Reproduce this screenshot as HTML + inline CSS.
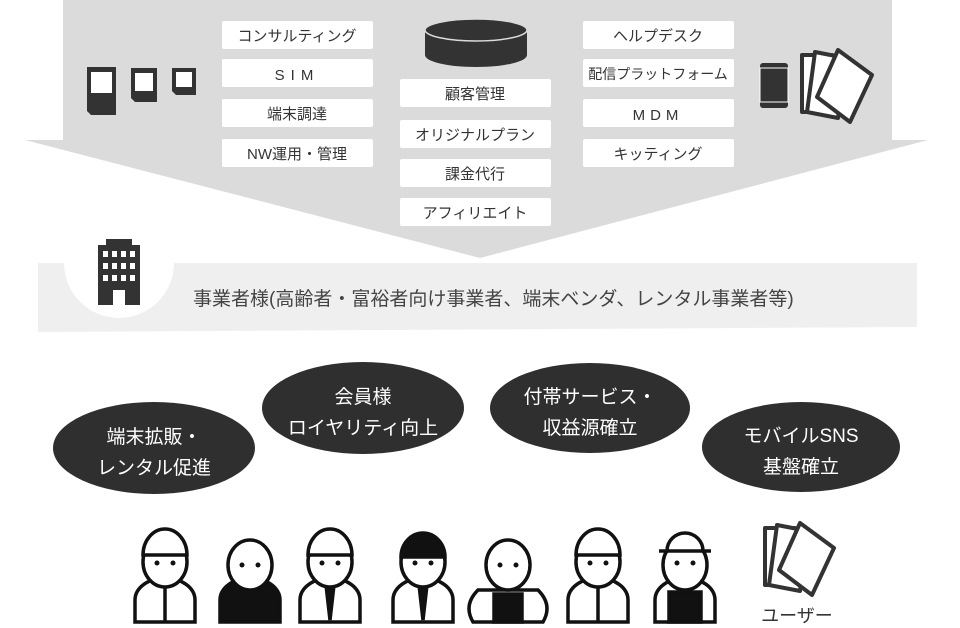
<!DOCTYPE html>
<html><head><meta charset="utf-8"><style>
html,body{margin:0;padding:0;background:#fff;}
svg{display:block;}
text{font-family:"Liberation Sans","Noto Sans CJK JP",sans-serif;}
</style></head><body>
<svg width="960" height="628" viewBox="0 0 960 628" xmlns="http://www.w3.org/2000/svg">
<!-- big gray arrow -->
<polygon points="63,0 892,0 892,140 928,140 480,258 25,140 63,140" fill="#dcdbdb"/>
<!-- light band -->
<path d="M38,263 L917,263 L917,327 L38,332 Z" fill="#efefef"/>
<path d="M64,263 A55,55 0 0 0 174,263 Z" fill="#fff"/>
<!-- building -->
<g fill="#333">
<rect x="98" y="245" width="42" height="60"/>
<rect x="106" y="239" width="26" height="8"/>
</g>
<g fill="#fff">
<rect x="103" y="251" width="5" height="6"/><rect x="112" y="251" width="5" height="6"/><rect x="121" y="251" width="5" height="6"/><rect x="130" y="251" width="5" height="6"/>
<rect x="103" y="263" width="5" height="6"/><rect x="112" y="263" width="5" height="6"/><rect x="121" y="263" width="5" height="6"/><rect x="130" y="263" width="5" height="6"/>
<rect x="103" y="275" width="5" height="6"/><rect x="112" y="275" width="5" height="6"/><rect x="121" y="275" width="5" height="6"/><rect x="130" y="275" width="5" height="6"/>
<rect x="113" y="290" width="12" height="15"/>
</g>
<text x="193" y="305" font-size="19" fill="#444">事業者様(高齢者・富裕者向け事業者、端末ベンダ、レンタル事業者等)</text>

<!-- SIM cards -->
<g fill="#333">
<path d="M87,67 h29 v48 h-25 l-4,-4 z"/>
<path d="M131,68 h26 v34 h-22 l-4,-4 z"/>
<path d="M172,68 h24 v27 h-20 l-4,-4 z"/>
</g>
<g fill="#fff">
<rect x="91" y="72" width="21" height="21"/>
<rect x="135" y="73" width="18" height="18"/>
<rect x="176" y="72" width="16" height="15"/>
</g>

<!-- boxes -->
<g fill="#fff">
<rect x="222" y="21" width="151" height="28" rx="2"/>
<rect x="222" y="59" width="151" height="28" rx="2"/>
<rect x="222" y="99" width="151" height="28" rx="2"/>
<rect x="222" y="139" width="151" height="28" rx="2"/>
<rect x="400" y="79" width="151" height="28" rx="2"/>
<rect x="400" y="120" width="151" height="28" rx="2"/>
<rect x="400" y="159" width="151" height="28" rx="2"/>
<rect x="400" y="198" width="151" height="28" rx="2"/>
<rect x="583" y="21" width="151" height="28" rx="2"/>
<rect x="583" y="59" width="151" height="28" rx="2"/>
<rect x="583" y="99" width="151" height="28" rx="2"/>
<rect x="583" y="139" width="151" height="28" rx="2"/>
</g>
<g font-size="15" fill="#333" text-anchor="middle">
<text x="297" y="41">コンサルティング</text>
<text x="297" y="80" letter-spacing="6">SIM</text>
<text x="297" y="119">端末調達</text>
<text x="297" y="159">NW運用・管理</text>
<text x="475" y="99">顧客管理</text>
<text x="475" y="140">オリジナルプラン</text>
<text x="475" y="179">課金代行</text>
<text x="475" y="218">アフィリエイト</text>
<text x="658" y="41">ヘルプデスク</text>
<text x="658" y="79" font-size="14">配信プラットフォーム</text>
<text x="658" y="120" letter-spacing="5">MDM</text>
<text x="658" y="159">キッティング</text>
</g>
<!-- database -->
<path d="M425,30 v25 a51,12 0 0 0 102,0 v-25 z" fill="#333"/>
<ellipse cx="476" cy="30" rx="51" ry="11" fill="#333" stroke="#dcdbdb" stroke-width="1.5"/>
<!-- devices top-right -->
<rect x="760" y="63" width="28" height="45" rx="3" fill="#333"/>
<rect x="760" y="68" width="28" height="34" fill="#333" stroke="#fff" stroke-width="1"/>
<g fill="#fff" stroke="#333" stroke-width="4" stroke-linejoin="round">
<polygon points="802,55 832,55 832,112 802,112"/>
<polygon points="815,52 846,58 838,118 807,112"/>
<polygon points="838,50 872,75 850,122 817,97"/>
</g>

<!-- ellipses -->
<g fill="#2f2f2f">
<ellipse cx="154" cy="448" rx="101" ry="46"/>
<ellipse cx="363" cy="408" rx="101" ry="46"/>
<ellipse cx="590" cy="408" rx="100" ry="45"/>
<ellipse cx="801" cy="447" rx="99" ry="45"/>
</g>
<g font-size="19" fill="#fff" text-anchor="middle">
<text x="154" y="443">端末拡販・</text>
<text x="154" y="474">レンタル促進</text>
<text x="363" y="403">会員様</text>
<text x="363" y="434">ロイヤリティ向上</text>
<text x="590" y="403">付帯サービス・</text>
<text x="590" y="434">収益源確立</text>
<text x="801" y="442">モバイルSNS</text>
<text x="801" y="473">基盤確立</text>
</g>

<!-- people -->
<g stroke="#111" stroke-width="3.5" fill="#fff">
<!-- generic: body then head -->
<g transform="translate(165,0)">
<path d="M-30,622 v-22 a30,22 0 0 1 60,0 v22 z"/><line x1="0" y1="580" x2="0" y2="622"/>
<ellipse cx="0" cy="562" rx="22" ry="25"/><path d="M-22,555 a22,26 0 0 1 44,0 z"/>
</g>
<g transform="translate(250,0)">
<path d="M-30,622 v-22 a30,22 0 0 1 60,0 v22 z" fill="#111"/>
<ellipse cx="0" cy="565" rx="22" ry="25"/>
</g>
<g transform="translate(330,0)">
<path d="M-30,622 v-22 a30,22 0 0 1 60,0 v22 z"/><path d="M-4,585 l4,35 l4,-35 z" fill="#111"/>
<ellipse cx="0" cy="562" rx="22" ry="25"/><path d="M-22,555 a22,26 0 0 1 44,0 z"/>
</g>
<g transform="translate(423,0)">
<path d="M-30,622 v-22 a30,22 0 0 1 60,0 v22 z"/><path d="M-4,585 l4,35 l4,-35 z" fill="#111"/>
<ellipse cx="0" cy="562" rx="22" ry="25"/><path d="M-22,557 a22,24 0 0 1 44,0 z" fill="#111"/>
</g>
<g transform="translate(508,0)">
<path d="M-30,590 q-15,15 -5,32 h70 q10,-17 -5,-32 z"/><path d="M-14,622 v-28 h28 v28 z" fill="#111"/>
<ellipse cx="0" cy="565" rx="22" ry="25"/>
</g>
<g transform="translate(598,0)">
<path d="M-30,622 v-22 a30,22 0 0 1 60,0 v22 z"/><line x1="0" y1="585" x2="0" y2="622"/>
<ellipse cx="0" cy="562" rx="22" ry="25"/><path d="M-22,555 a22,26 0 0 1 44,0 z"/>
</g>
<g transform="translate(685,0)">
<path d="M-30,622 v-22 a30,22 0 0 1 60,0 v22 z"/><path d="M-16,622 v-30 h32 v30 z" fill="#111"/>
<ellipse cx="0" cy="565" rx="22" ry="25"/><path d="M-26,551 h52 M-18,551 a18,18 0 0 1 36,0"/>
</g>
</g>
<g fill="#111">
<circle cx="157" cy="563" r="2.5"/><circle cx="173" cy="563" r="2.5"/>
<circle cx="242" cy="565" r="2.5"/><circle cx="258" cy="565" r="2.5"/>
<circle cx="322" cy="563" r="2.5"/><circle cx="338" cy="563" r="2.5"/>
<circle cx="415" cy="563" r="2.5"/><circle cx="431" cy="563" r="2.5"/>
<circle cx="500" cy="565" r="2.5"/><circle cx="516" cy="565" r="2.5"/>
<circle cx="590" cy="563" r="2.5"/><circle cx="606" cy="563" r="2.5"/>
<circle cx="677" cy="563" r="2.5"/><circle cx="693" cy="563" r="2.5"/>
</g>
<!-- user tablets -->
<g fill="#fff" stroke="#333" stroke-width="4" stroke-linejoin="round">
<polygon points="765,528 795,528 795,585 765,585"/>
<polygon points="777,525 808,531 800,591 769,585"/>
<polygon points="800,523 834,548 812,595 779,570"/>
</g>
<text x="797" y="622" font-size="18" fill="#333" text-anchor="middle">ユーザー</text>
</svg>
</body></html>
